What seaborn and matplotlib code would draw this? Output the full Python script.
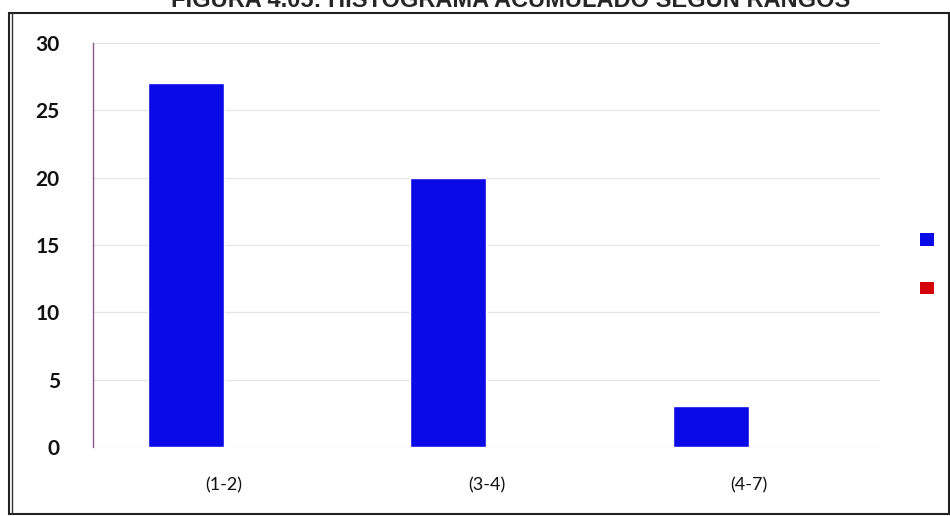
import matplotlib
matplotlib.use("Agg")
import matplotlib.pyplot as plt
import seaborn as sns
import pandas as pd
from matplotlib.patches import Patch, Rectangle

categories = ["(1-2)", "(3-4)", "(4-7)"]
serie_azul = [27, 20, 3]
serie_roja = [0, 0, 0]
series_names = ["Serie 1", "Serie 2"]
colors = ["#0a0ae6", "#d4000a"]
title = "FIGURA 4.05: HISTOGRAMA ACUMULADO SEGÚN RANGOS"

df = pd.DataFrame({
    "rango": categories * 2,
    "valor": serie_azul + serie_roja,
    "serie": [series_names[0]] * 3 + [series_names[1]] * 3,
})

sns.set_theme(style="white")
plt.rcParams["font.family"] = ["Lato", "DejaVu Sans"]

fig = plt.figure(figsize=(9.5, 5.16), dpi=100)
ax = fig.add_axes([0.098, 0.134, 0.828, 0.783])

sns.barplot(data=df, x="rango", y="valor", hue="serie", palette=colors,
            width=0.58, ax=ax, saturation=1, legend=False)

ax.set_ylim(0, 30)
ax.set_xlim(-0.5, 2.5)
ax.set_yticks(range(0, 31, 5))
ax.set_xlabel("")
ax.set_ylabel("")
ax.yaxis.grid(True, color="#e6e6e6", linewidth=1)
ax.set_axisbelow(True)
for s in ["top", "right", "bottom"]:
    ax.spines[s].set_visible(False)
ax.spines["left"].set_color("#8a5a8a")
ax.spines["left"].set_linewidth(1)
ax.tick_params(axis="y", length=0, pad=24, labelsize=15, labelcolor="#111111")
ax.tick_params(axis="x", length=0, pad=22, labelsize=13, labelcolor="#111111")
for t in ax.get_yticklabels():
    t.set_fontweight("bold")

handles = [Patch(facecolor=c, edgecolor="none") for c in colors]
fig.legend(handles, ["", ""], loc="center", bbox_to_anchor=(0.976, 0.487),
           frameon=False, handlelength=0.9, handleheight=0.9, labelspacing=2.2,
           handletextpad=0)

fig.text(0.537, 0.986, title, ha="center", va="baseline", fontsize=17,
         fontweight="bold", family=["Liberation Sans", "DejaVu Sans"])

fig.patches.append(Rectangle((0.009, 0.004), 0.99, 0.970, transform=fig.transFigure,
                             fill=False, edgecolor="#222222", linewidth=1.5))
fig.patches.append(Rectangle((0.013, 0.004), 0.0, 0.970, transform=fig.transFigure,
                             fill=False, edgecolor="#333333", linewidth=1.0))

fig.savefig("out.png", dpi=100)
